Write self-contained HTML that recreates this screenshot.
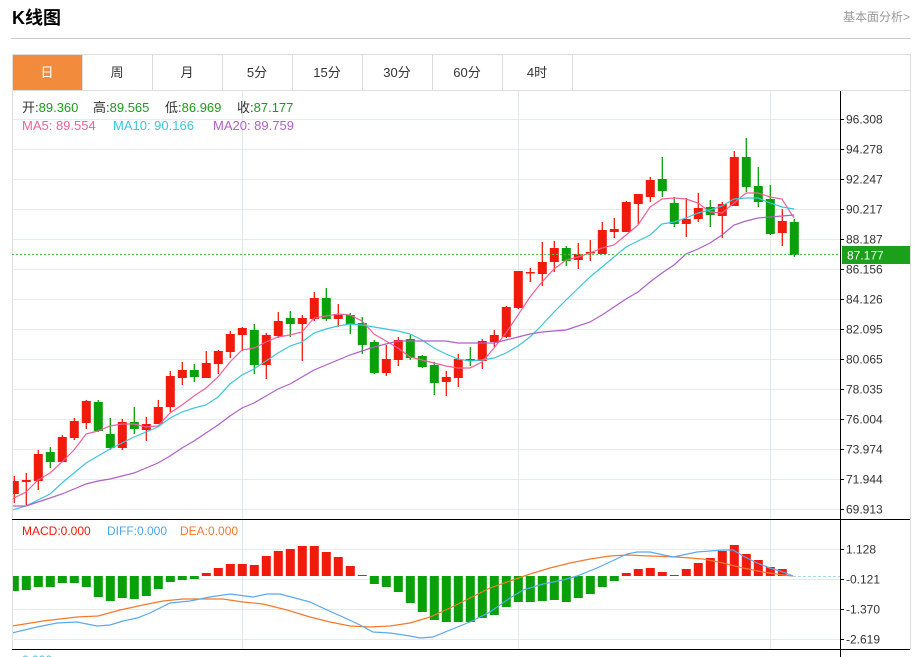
<!DOCTYPE html>
<html><head><meta charset="utf-8"><style>
html,body{margin:0;padding:0;background:#fff;width:924px;height:657px;overflow:hidden;font-family:"Liberation Sans","Noto Sans CJK SC",sans-serif}
</style></head><body>
<svg id="s" width="924" height="657" xmlns="http://www.w3.org/2000/svg" font-family="Liberation Sans, Noto Sans CJK SC, sans-serif">
<defs><clipPath id="cp"><rect x="13" y="91" width="827" height="560"/></clipPath></defs>
<text x="12" y="24" font-size="18" font-weight="bold" fill="#000">K线图</text>
<text x="910" y="21" font-size="12" fill="#999" text-anchor="end">基本面分析&gt;</text>
<line x1="11" y1="38.5" x2="911" y2="38.5" stroke="#ccc"/>
<rect x="12.5" y="54.5" width="898" height="595" fill="none" stroke="#ddd"/>
<line x1="12" y1="90.5" x2="910" y2="90.5" stroke="#ddd"/>
<rect x="13" y="55" width="69" height="35" fill="#f28b3c"/>
<g font-size="13" fill="#333" text-anchor="middle">
<text x="47" y="77" fill="#fff">日</text><text x="117" y="77">周</text><text x="187" y="77">月</text><text x="257" y="77">5分</text><text x="327" y="77">15分</text><text x="397" y="77">30分</text><text x="467" y="77">60分</text><text x="537" y="77">4时</text>
</g>
<g stroke="#ddd"><line x1="82.5" y1="55" x2="82.5" y2="90"/><line x1="152.5" y1="55" x2="152.5" y2="90"/><line x1="222.5" y1="55" x2="222.5" y2="90"/><line x1="292.5" y1="55" x2="292.5" y2="90"/><line x1="362.5" y1="55" x2="362.5" y2="90"/><line x1="432.5" y1="55" x2="432.5" y2="90"/><line x1="502.5" y1="55" x2="502.5" y2="90"/><line x1="572.5" y1="55" x2="572.5" y2="90"/></g>
<g id="grid" stroke="#e3eaf0"></g>
<g stroke="#dde8f0"><line x1="242.5" y1="91" x2="242.5" y2="649"/><line x1="518.5" y1="91" x2="518.5" y2="649"/><line x1="770.5" y1="91" x2="770.5" y2="649"/></g>
<g id="axis" font-size="12" fill="#333"></g>
<line x1="840.5" y1="91" x2="840.5" y2="657" stroke="#000"/>
<line x1="12" y1="519.5" x2="910" y2="519.5" stroke="#000"/>
<line x1="12" y1="649.5" x2="910" y2="649.5" stroke="#000"/>
<g clip-path="url(#cp)"><g id="c"></g>
<g id="ma" fill="none" stroke-width="1.2"></g></g>
<line x1="12" y1="254.5" x2="840" y2="254.5" stroke="#4cc04c" stroke-dasharray="2,2"/>
<rect x="842" y="246" width="68" height="18" fill="#1aa01a"/>
<text x="847" y="259.5" font-size="12" fill="#fff">87.177</text>
<g font-size="13">
<text x="22" y="112" fill="#333">开:<tspan fill="#1a9c1a">89.360</tspan></text>
<text x="93" y="112" fill="#333">高:<tspan fill="#1a9c1a">89.565</tspan></text>
<text x="165" y="112" fill="#333">低:<tspan fill="#1a9c1a">86.969</tspan></text>
<text x="237" y="112" fill="#333">收:<tspan fill="#1a9c1a">87.177</tspan></text>
<text x="22" y="130" fill="#f0609a">MA5: 89.554</text>
<text x="113" y="130" fill="#3cc6dc">MA10: 90.166</text>
<text x="213" y="130" fill="#b05fc8">MA20: 89.759</text>
</g>
<g font-size="12">
<text x="22" y="535" fill="#f01a0a">MACD:0.000</text>
<text x="107" y="535" fill="#4ea6f0">DIFF:0.000</text>
<text x="180" y="535" fill="#f5792a">DEA:0.000</text>
</g>
<text x="22" y="664" font-size="12" fill="#3cc6dc">0.000</text>
</svg>
<script>
var NS="http://www.w3.org/2000/svg";
function el(p,t,a){var e=document.createElementNS(NS,t);for(var k in a)e.setAttribute(k,a[k]);p.appendChild(e);return e;}
var g=document.getElementById('grid'),ax=document.getElementById('axis');
var labs=["96.308","94.278","92.247","90.217","88.187","86.156","84.126","82.095","80.065","78.035","76.004","73.974","71.944","69.913"];
for(var i=0;i<14;i++){var y=119.5+i*30;if(i==13)y=509.5;el(g,'line',{x1:12,y1:y,x2:840,y2:y});el(ax,'line',{x1:840,y1:y,x2:844,y2:y,stroke:'#000'});var t=el(ax,'text',{x:846,y:y+4});t.textContent=labs[i];}
var ml=["1.128","-0.121","-1.370","-2.619"],my=[549.5,579.5,609.5,639.5];
for(var i=0;i<4;i++){el(g,'line',{x1:12,y1:my[i],x2:840,y2:my[i]});el(ax,'line',{x1:840,y1:my[i],x2:844,y2:my[i],stroke:'#000'});var t=el(ax,'text',{x:846,y:my[i]+4});t.textContent=ml[i];}
var R='#f21a0c',G='#0aa00a';
var C=[[R,481,494,476,503],[R,480,482,473,505],[R,454,481,450,490],[G,452,462,447,468],[R,437,462,435,462],[R,421,438,418,440],[R,401,423,400,429],[G,402,431,400,432],[G,434,448,418,450],[R,422,448,419,450],[G,422,429,407,434],[R,424,430,417,441],[R,407,424,400,424],[R,376,407,371,412],[R,370,378,362,385],[G,370,377,364,382],[R,363,378,351,378],[R,351,364,350,374],[R,334,352,331,358],[R,328,335,327,351],[G,330,365,324,374],[R,335,365,333,379],[R,321,336,312,338],[G,318,324,311,337],[R,318,324,315,361],[R,298,319,292,321],[G,298,319,288,321],[R,315,319,304,327],[G,315,324,313,334],[G,323,345,317,354],[G,342,373,340,374],[R,359,373,345,376],[R,340,360,337,366],[G,339,358,335,360],[G,356,367,355,368],[G,365,383,362,395],[R,377,382,371,396],[R,359,378,354,387],[G,359,361,347,366],[R,341,361,339,369],[R,335,342,330,347],[R,307,337,306,338],[R,271,308,271,309],[R,272,273,268,282],[R,262,274,242,286],[R,248,262,241,272],[G,248,261,246,266],[R,254,260,243,269],[R,252,253,240,261],[R,230,254,222,254],[R,229,232,218,238],[R,202,232,201,232],[R,194,204,194,224],[R,180,197,177,202],[G,179,191,157,197],[G,203,224,197,227],[R,219,224,198,237],[R,208,219,193,222],[G,207,215,200,227],[R,204,216,202,238],[R,157,206,151,206],[G,157,187,138,192],[G,186,202,167,207],[G,199,234,185,235],[R,221,233,209,246],[G,222,255,219,257]];
var c=document.getElementById('c');
C.forEach(function(d,i){var x=14.3+12*i;el(c,'line',{x1:x,y1:d[3],x2:x,y2:d[4],stroke:d[0],'stroke-width':1.3});el(c,'rect',{x:x-4.5,y:d[1],width:9,height:Math.max(1.5,d[2]-d[1]),fill:d[0]});});
var Z=576;
var M=[591,590,587,587,583,583,587,597,601,598,599,596,589,582,580,579,573,568,564,564,565,556,551,549,546,546,552,557,566,575,584,587,592,603,612,620,622,622,622,618,615,607,602,602,601,600,602,598,594,587,581,573,569,568,572,575,569,563,558,551,545,554,560,567,569];
M.forEach(function(v,i){var x=14.3+12*i;var col=v>Z?G:R;var y1=Math.min(v,Z),h=Math.abs(v-Z);if(h<1)h=1;el(c,'rect',{x:x-4.5,y:y1,width:9,height:h,fill:col});});
el(c,'line',{x1:793,y1:576.5,x2:840,y2:576.5,stroke:'#a8d8e8','stroke-dasharray':'3,2'});
var ma=document.getElementById('ma');
function pl(pts,col){el(ma,'polyline',{points:pts,stroke:col});}
pl("12,499 26,492 38,480 50,473 62,462 74,450 86,434 98,431 110,426 122,424 134,424 146,427 158,426 170,413 182,405 194,396 206,388 218,377 230,362 242,350 254,348 266,342 278,337 290,335 302,332 314,318 326,316 338,314 350,315 362,321 374,334 386,341 398,348 410,357 422,360 434,363 446,366 458,368 470,368 482,362 494,348 506,333 518,315 530,297 542,282 554,269 566,260 578,257 590,253 602,248 614,245 626,235 638,225 650,207 662,199 674,198 686,199 698,203 710,212 722,213 734,203 746,193 758,193 770,197 782,199 794,218","#f0609a");
pl("12,510 26,506 38,500 50,494 62,483 74,473 86,463 98,456 110,449 122,443 134,437 146,432 158,427 170,418 182,412 194,408 206,405 218,397 230,384 242,375 254,369 266,361 278,353 290,346 302,342 314,333 326,329 338,326 350,324 362,325 374,327 386,329 398,331 410,334 422,340 434,348 446,354 458,359 470,361 482,360 494,358 506,353 518,346 530,337 542,325 554,312 566,300 590,277 614,257 626,247 650,235 662,224 674,222 686,218 698,213 710,210 722,206 734,199 746,198 758,198 770,203 782,207 794,209","#3cc6dc");
pl("12,506 26,506 38,502 50,498 62,494 74,489 86,484 98,481 110,479 122,476 134,473 146,468 158,463 170,456 182,448 194,441 206,433 218,425 230,416 242,408 254,403 266,396 278,389 290,384 302,377 314,370 326,365 338,360 350,355 362,351 374,347 386,344 398,341 410,341 422,341 434,341 446,341 458,343 470,343 482,343 494,343 506,340 518,337 530,334 542,332 554,331 566,330 590,322 602,315 614,307 626,299 638,292 650,282 662,273 674,265 686,254 698,249 710,243 722,235 734,225 746,221 758,218 770,217 782,216 794,215","#b05fc8");
pl("12,626 43,621 77,617 98,616 120,610 143,605 163,601 183,599 203,599 223,599 243,602 263,604 287,610 310,617 330,622 350,626 370,627 390,626 410,623 430,617 450,608 470,598 490,588 510,581 530,574 550,568 570,563 590,559 610,556 627,555 650,556 677,557 703,559 723,563 743,568 763,572 783,575 793,576","#f5792a");
pl("12,633 37,627 57,623 77,622 97,626 110,625 123,621 137,618 150,613 170,603 190,601 210,597 230,594 253,597 267,594 280,594 310,602 327,610 343,617 360,625 373,632 390,633 410,636 420,638 433,637 450,630 470,622 490,612 510,598 523,590 543,584 563,580 577,576 597,568 610,562 627,554 637,552 650,552 673,557 697,552 723,550 733,550 743,556 757,563 770,568 783,572 793,576","#5aa9f0");
</script>
</body></html>
